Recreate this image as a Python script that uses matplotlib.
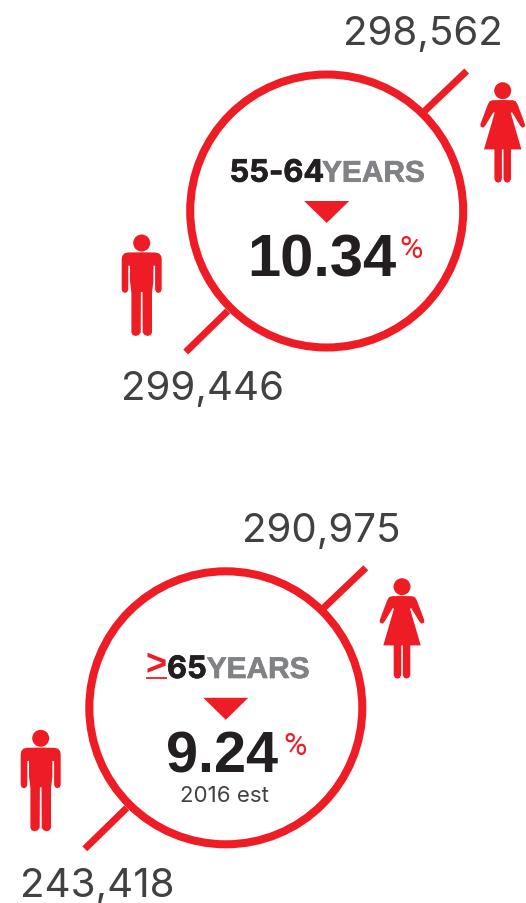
"""Population by age band: two ringed callouts with male and female counts."""

import matplotlib
matplotlib.use("Agg")
import matplotlib.pyplot as plt
import matplotlib.patheffects as pe
from matplotlib.patches import Circle, Polygon

age_labels = ["55-64", "65"]
pct_values = [10.34, 9.24]
female_counts = [298562, 290975]
male_counts = [299446, 243418]
notes = ["", "2016 est"]

RED = "#ee1c25"
DARK = "#231f20"
GREY = "#808285"
COUNT = "#414042"
NUM_FONT = "Inter"
BOLD_FONT = "Liberation Sans"
PCT_FONT = "Roboto"

fig = plt.figure(figsize=(5.26, 9.04), dpi=100)
ax = fig.add_axes([0, 0, 1, 1])
ax.set_xlim(0, 526)
ax.set_ylim(904, 0)
ax.axis("off")


def mirrored(right_side):
    """Outline from the right half of a symmetric figure, top to bottom."""
    return right_side + [(-a, b) for a, b in reversed(right_side)]


def draw_man(x, y):
    """Man pictogram, x and y are the centre of the head."""
    ax.add_patch(Circle((x, y), 8.5, color=RED, lw=0))
    body = mirrored([(0, 9.3), (14, 9.5), (17.5, 10.5), (19.5, 13), (20, 16),
                     (20, 46.5), (19, 49), (16.7, 50), (14.5, 49), (13.4, 46.5),
                     (13.4, 22.7), (11.7, 22.7), (11.7, 38), (10.3, 50), (10.3, 89.5),
                     (9, 92), (6, 93), (3, 92), (1, 89.5), (0.8, 49), (0, 49)])
    ax.add_patch(Polygon([(x + a, y + b) for a, b in body], color=RED, lw=0))


def draw_woman(x, y):
    """Woman pictogram, x and y are the centre of the head."""
    ax.add_patch(Circle((x, y), 8.5, color=RED, lw=0))
    body = mirrored([(0, 9.3), (10, 9.5), (13, 10.5), (15, 14), (22.3, 33.5),
                     (22, 36), (19.5, 37), (17.5, 35), (9.3, 21.5), (8, 22),
                     (18.7, 58.7), (8.3, 58.7), (8.3, 88.5), (7, 91), (4.5, 92),
                     (2, 91), (0.8, 88.5), (0.8, 58.7), (0, 58.7)])
    ax.add_patch(Polygon([(x + a, y + b) for a, b in body], color=RED, lw=0))


def draw_callout(cx, cy):
    # ring and the two leader lines
    ax.add_patch(Circle((cx, cy), 136.5, fill=False, edgecolor=RED, linewidth=5.8))
    ax.plot([cx + 98, cx + 140], [cy - 100, cy - 140], color=RED, lw=5, solid_capstyle="butt")
    ax.plot([cx - 99, cx - 141], [cy + 100, cy + 141], color=RED, lw=5, solid_capstyle="butt")
    # arrow
    ax.add_patch(Polygon([(cx - 22.5, cy - 10), (cx + 22.5, cy - 10), (cx, cy + 12)], color=RED, lw=0))


def heavy(color, width=0.5):
    return [pe.withStroke(linewidth=width, foreground=color)]


draw_callout(326.7, 212)
draw_callout(225.8, 708.8)

draw_man(141.7, 244)
draw_woman(502.7, 91.7)
draw_man(40.7, 739.3)
draw_woman(402, 587.7)

# counts
count_size = 29
ax.text(343, 45, f"{female_counts[0]:,}", fontsize=count_size, family=NUM_FONT, color=COUNT, va="baseline")
ax.text(121, 400, f"{male_counts[0]:,}", fontsize=count_size, family=NUM_FONT, color=COUNT, va="baseline")
ax.text(242, 541.7, f"{female_counts[1]:,}", fontsize=count_size, family=NUM_FONT, color=COUNT, va="baseline")
ax.text(20.2, 896.7, f"{male_counts[1]:,}", fontsize=count_size, family=NUM_FONT, color=COUNT, va="baseline")

# age band headings
head_size = 21.5
ax.text(229.5, 182.7, age_labels[0], fontsize=22.2, family=NUM_FONT, weight="bold", color=DARK,
        va="baseline", path_effects=heavy(DARK))
ax.text(322, 182.7, "YEARS", fontsize=head_size, family=BOLD_FONT, weight="bold", color=GREY,
        va="baseline", path_effects=heavy(GREY))
ax.text(145.5, 675, ">", fontsize=26, family=BOLD_FONT, weight="bold", color=RED, va="baseline")
ax.plot([146, 167], [679, 679], color=RED, lw=1.3, solid_capstyle="butt")
ax.text(167, 679, age_labels[1], fontsize=22.2, family=NUM_FONT, weight="bold", color=DARK,
        va="baseline", path_effects=heavy(DARK))
ax.text(206.7, 679, "YEARS", fontsize=head_size, family=BOLD_FONT, weight="bold", color=GREY,
        va="baseline", path_effects=heavy(GREY))

# percentages
ax.text(247, 276.7, f"{pct_values[0]:.2f}", fontsize=43, family=BOLD_FONT, weight="bold", color=DARK, va="baseline")
ax.text(166.5, 772.7, f"{pct_values[1]:.2f}", fontsize=41.5, family=BOLD_FONT, weight="bold", color=DARK, va="baseline")
ax.text(399, 258, "%", fontsize=23, family=PCT_FONT, color=RED, va="baseline")
ax.text(283, 755, "%", fontsize=23, family=PCT_FONT, color=RED, va="baseline")

ax.text(224, 801.7, notes[1], fontsize=16, family=NUM_FONT, color=COUNT, ha="center", va="baseline")

fig.savefig("out.png", dpi=100)
